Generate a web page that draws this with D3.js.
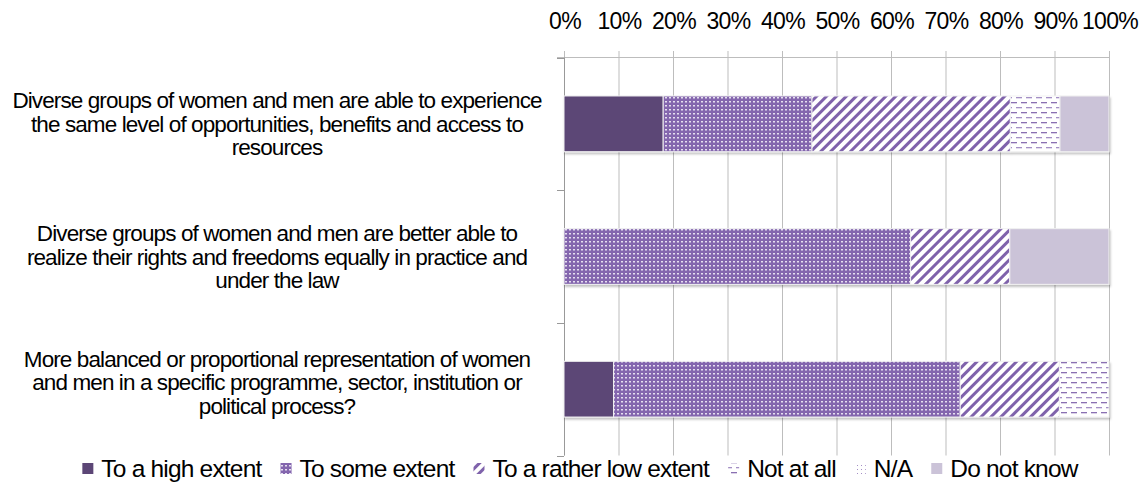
<!DOCTYPE html>
<html><head><meta charset="utf-8">
<script src="https://cdn.jsdelivr.net/npm/d3@7"></script>
<style>
html,body{margin:0;padding:0;background:#fff;}
svg{display:block;font-family:"Liberation Sans",Arial,sans-serif;}
</style></head>
<body><svg id="chart" width="1141" height="503"></svg>
<script>
const categories = [
  ["Diverse groups of women and men are able to experience","the same level of opportunities, benefits and access to","resources"],
  ["Diverse groups of women and men are better able to","realize their rights and freedoms equally in practice and","under the law"],
  ["More balanced or proportional representation of women","and men in a specific programme, sector, institution or","political process?"]
];
const seriesNames = ["To a high extent","To some extent","To a rather low extent","Not at all","N/A","Do not know"];
const highExtent   = [18.2, 0,    9.1];
const someExtent   = [27.3, 63.6, 63.6];
const ratherLow    = [36.4, 18.2, 18.2];
const notAtAll     = [9.1,  0,    9.1];
const notApplicable= [0,    0,    0];
const doNotKnow    = [9.0,  18.2, 0];
const tickValues = [0,10,20,30,40,50,60,70,80,90,100];

const svg = d3.select("#chart");
const x = d3.scaleLinear().domain([0,100]).range([564,1109]);
const y = d3.scaleBand().domain(d3.range(categories.length)).range([57.5,455.5]).paddingInner(0.58).paddingOuter(0.29);

const defs = svg.append("defs");
const pSome = defs.append("pattern").attr("id","pSome").attr("patternUnits","userSpaceOnUse").attr("width",4).attr("height",4);
pSome.append("rect").attr("width",4).attr("height",4).attr("fill","#8466ae");
pSome.append("rect").attr("x",1).attr("y",1).attr("width",2).attr("height",1.5).attr("fill","#e6dff0");
const pLow = defs.append("pattern").attr("id","pLow").attr("patternUnits","userSpaceOnUse").attr("width",7).attr("height",7).attr("patternTransform","rotate(45)");
pLow.append("rect").attr("width",7).attr("height",7).attr("fill","#fff");
pLow.append("rect").attr("width",3).attr("height",7).attr("fill","#7f62ab");
const pNot = defs.append("pattern").attr("id","pNot").attr("patternUnits","userSpaceOnUse").attr("width",10).attr("height",10);
pNot.append("rect").attr("width",10).attr("height",10).attr("fill","#fff");
pNot.append("rect").attr("x",1).attr("y",2).attr("width",6).attr("height",1.3).attr("fill","#8a70b2");
pNot.append("rect").attr("x",6).attr("y",7).attr("width",6).attr("height",1.3).attr("fill","#a48fc5");
pNot.append("rect").attr("x",-4).attr("y",7).attr("width",6).attr("height",1.3).attr("fill","#a48fc5");
const pNA = defs.append("pattern").attr("id","pNA").attr("patternUnits","userSpaceOnUse").attr("width",4).attr("height",4);
pNA.append("rect").attr("width",4).attr("height",4).attr("fill","#fff");
pNA.append("rect").attr("x",1).attr("y",1).attr("width",1).attr("height",1).attr("fill","#a48fc5");
const sh = defs.append("filter").attr("id","shadow").attr("x","-5%").attr("y","-20%").attr("width","110%").attr("height","160%");
sh.append("feDropShadow").attr("dx",1).attr("dy",2).attr("stdDeviation",1.2).attr("flood-color","#000").attr("flood-opacity",0.25);

const fills = ["#5c4676","url(#pSome)","url(#pLow)","url(#pNot)","url(#pNA)","#cbc3d8"];

const gridColor = "#bdbdbd";
svg.append("g").selectAll("line").data(tickValues).join("line")
  .attr("x1",d=>x(d)+0.5).attr("x2",d=>x(d)+0.5)
  .attr("y1",51).attr("y2",455.5)
  .attr("stroke",gridColor).attr("stroke-width",1);
svg.append("line").attr("x1",557).attr("x2",x(100)+0.5).attr("y1",57.5).attr("y2",57.5).attr("stroke",gridColor);
svg.append("line").attr("x1",x(0)+0.5).attr("x2",x(0)+0.5).attr("y1",57.5).attr("y2",455.5).attr("stroke","#999");
const bounds = d3.range(categories.length+1).map(i=>y.range()[0]+i*y.step());
svg.append("g").selectAll("line").data(bounds).join("line")
  .attr("x1",557).attr("x2",x(0)).attr("y1",d=>Math.round(d)+0.5).attr("y2",d=>Math.round(d)+0.5)
  .attr("stroke","#999");

svg.append("g").selectAll("text").data(tickValues).join("text")
  .attr("x",d=>x(d)+1).attr("y",29).attr("text-anchor","middle")
  .attr("font-size",23).attr("letter-spacing","-0.7").attr("fill","#000")
  .text(d=>d+"%");

const seriesData = [highExtent, someExtent, ratherLow, notAtAll, notApplicable, doNotKnow];
const rows = categories.map((c,i)=>{
  let acc=0; const segs=[];
  seriesData.forEach((s,k)=>{ if(s[i]>0){ segs.push({k, x0:acc, x1:acc+s[i]}); } acc+=s[i]; });
  return {i, segs};
});
const gBars = svg.append("g");
rows.forEach(r=>{
  const g = gBars.append("g").attr("filter","url(#shadow)");
  g.selectAll("rect").data(r.segs).join("rect")
    .attr("x",d=>x(d.x0)).attr("width",d=>x(Math.min(d.x1,100))-x(d.x0))
    .attr("y",y(r.i)).attr("height",y.bandwidth())
    .attr("fill",d=>fills[d.k]).attr("stroke","#f2f2f2").attr("stroke-width",1);
});

const labelShift = [0, 0, -7];
const gl = svg.append("g");
categories.forEach((lines,i)=>{
  const cy = y(i)+y.bandwidth()/2 + labelShift[i];
  const lh = 23.5;
  lines.forEach((t,j)=>{
    gl.append("text").attr("x",277).attr("y",cy+8+(j-(lines.length-1)/2)*lh)
      .attr("text-anchor","middle").attr("font-size",22.5).attr("letter-spacing","-0.9")
      .attr("fill","#000").text(t);
  });
});

const lg = svg.append("g");
const items = seriesNames.map((n,k)=>({n,k}));
const tmp = lg.append("text").attr("font-size",24.5).attr("letter-spacing","-0.8");
items.forEach(it=>{ tmp.text(it.n); it.w = tmp.node().getComputedTextLength(); });
tmp.remove();
const mk=11, gap1=8, gap2=19;
const total = d3.sum(items,d=>mk+gap1+d.w)+gap2*(items.length-1);
let cx = 580 - total/2;
items.forEach(it=>{
  lg.append("rect").attr("x",cx).attr("y",463).attr("width",mk).attr("height",mk).attr("fill",fills[it.k]);
  lg.append("text").attr("x",cx+mk+gap1).attr("y",477).attr("font-size",24.5).attr("letter-spacing","-0.8").attr("fill","#000").text(it.n);
  cx += mk+gap1+it.w+gap2;
});
</script></body></html>
